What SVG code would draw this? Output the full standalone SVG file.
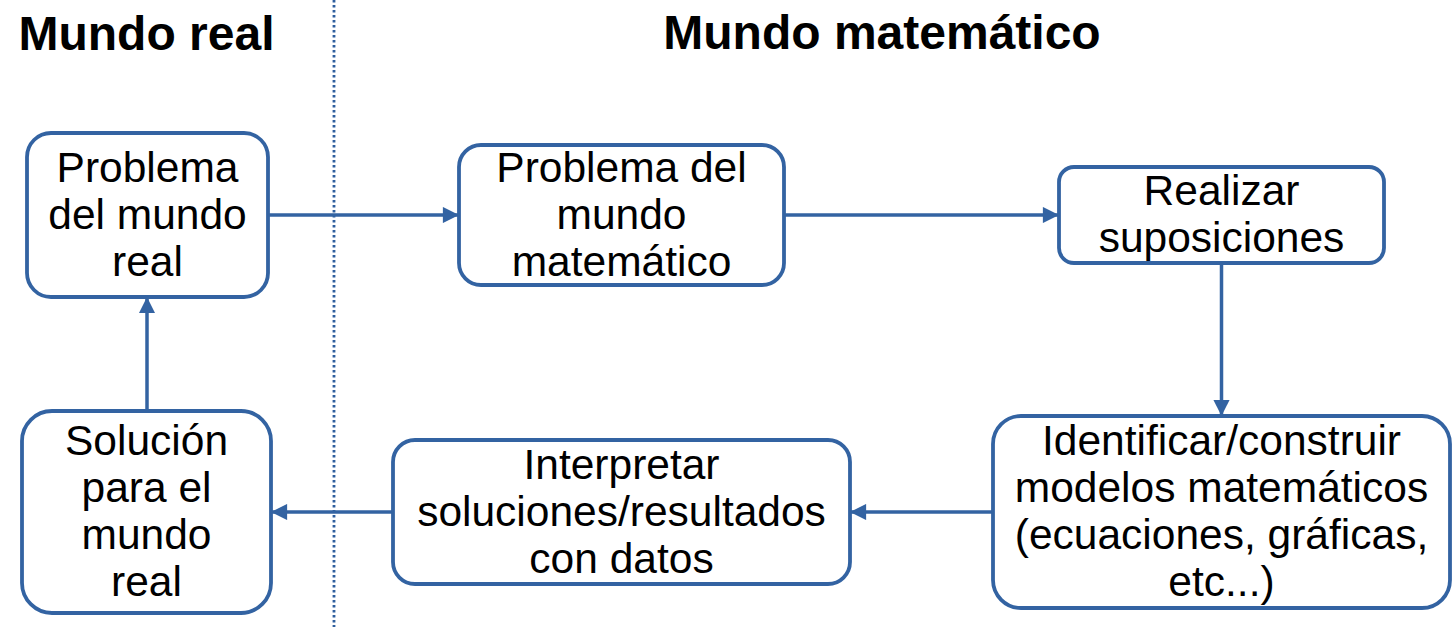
<svg xmlns="http://www.w3.org/2000/svg" width="1452" height="627" viewBox="0 0 1452 627">
<style>
.box{fill:#fff;stroke:#3363a2;stroke-width:3.8}
.t{font-family:"Liberation Sans",Arial,sans-serif;font-size:42.5px;fill:#000;text-anchor:middle}
.h{font-family:"Liberation Sans",Arial,sans-serif;font-size:48px;font-weight:bold;fill:#000;text-anchor:middle}
.c{fill:none;stroke:#3363a2;stroke-width:3.5}
</style>
<defs>
<marker id="ar" viewBox="0 0 10 10" refX="10" refY="5" markerWidth="5" markerHeight="4.6" orient="auto" markerUnits="strokeWidth">
<path d="M0,0 L10,5 L0,10 z" fill="#3363a2"/>
</marker>
</defs>
<rect width="1452" height="627" fill="#fff"/>
<g id="titles">
<text class="h" x="146.5" y="50">Mundo real</text>
<text class="h" x="882" y="49">Mundo matemático</text>
</g>
<line x1="334" y1="0" x2="334" y2="627" stroke="#2f5f9e" stroke-width="2.8" stroke-dasharray="2.5,2.5"/>
<g id="connectors">
<line class="c" x1="268" y1="215" x2="459" y2="215" marker-end="url(#ar)"/>
<line class="c" x1="784" y1="215" x2="1059" y2="215" marker-end="url(#ar)"/>
<line class="c" x1="1221.5" y1="263" x2="1221.5" y2="416" marker-end="url(#ar)"/>
<line class="c" x1="993" y1="512" x2="850" y2="512" marker-end="url(#ar)"/>
<line class="c" x1="393" y1="512" x2="271" y2="512" marker-end="url(#ar)"/>
<line class="c" x1="147" y1="411" x2="147" y2="297" marker-end="url(#ar)"/>
</g>
<g id="n1">
<rect class="box" x="27" y="133" width="241" height="164" rx="24"/>
<text class="t" x="147.5" y="182">Problema</text>
<text class="t" x="147.5" y="229">del mundo</text>
<text class="t" x="147.5" y="276">real</text>
</g>
<g id="n2">
<rect class="box" x="459" y="145" width="325" height="140" rx="22"/>
<text class="t" x="621.5" y="182">Problema del</text>
<text class="t" x="621.5" y="229">mundo</text>
<text class="t" x="621.5" y="276">matemático</text>
</g>
<g id="n3">
<rect class="box" x="1059" y="167" width="325" height="96" rx="15"/>
<text class="t" x="1221.5" y="205">Realizar</text>
<text class="t" x="1221.5" y="252">suposiciones</text>
</g>
<g id="n4">
<rect class="box" x="993" y="416" width="457" height="192" rx="28"/>
<text class="t" x="1221.5" y="455">Identificar/construir</text>
<text class="t" x="1221.5" y="502">modelos matemáticos</text>
<text class="t" x="1221.5" y="549">(ecuaciones, gráficas,</text>
<text class="t" x="1221.5" y="596">etc...)</text>
</g>
<g id="n5">
<rect class="box" x="393" y="440" width="457" height="144" rx="22"/>
<text class="t" x="621.5" y="479">Interpretar</text>
<text class="t" x="621.5" y="526">soluciones/resultados</text>
<text class="t" x="621.5" y="573">con datos</text>
</g>
<g id="n6">
<rect class="box" x="22" y="411" width="249" height="202" rx="30"/>
<text class="t" x="146.5" y="455">Solución</text>
<text class="t" x="146.5" y="502">para el</text>
<text class="t" x="146.5" y="549">mundo</text>
<text class="t" x="146.5" y="596">real</text>
</g>
</svg>
